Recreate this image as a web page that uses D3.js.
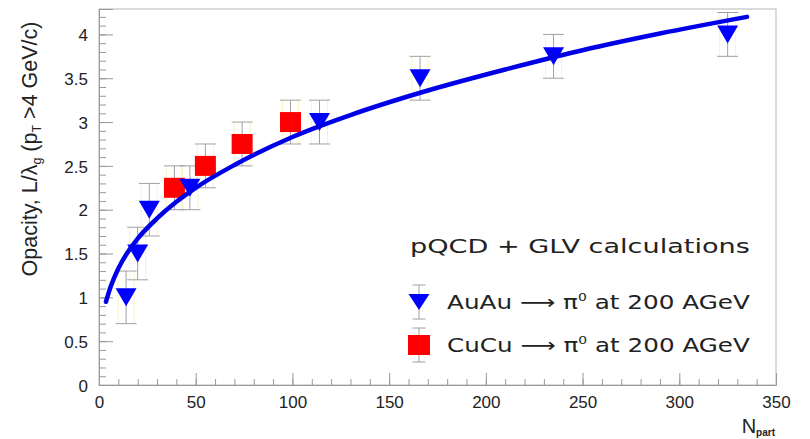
<!DOCTYPE html>
<html>
<head>
<meta charset="utf-8">
<script src="https://cdn.jsdelivr.net/npm/d3@7"></script>
<style>
  html, body { margin: 0; padding: 0; background: #fff; }
  svg { display: block; }
  text { font-family: "Liberation Sans", Arial, sans-serif; fill: #222; }
  .legend text { font-family: "DejaVu Sans", sans-serif; }
</style>
</head>
<body>
<svg id="chart" width="810" height="439"></svg>
<script>
// Au+Au pi0 opacity points (N_part, L/lambda_g, error)
const auauNpart   = [14, 20, 26, 47, 114, 166, 235, 325];
const auauOpacity = [1.0, 1.5, 2.0, 2.25, 3.0, 3.5, 3.75, 4.0];
const auauError   = [0.3, 0.3, 0.3, 0.25, 0.25, 0.25, 0.25, 0.25];

// Cu+Cu pi0 opacity points
const cucuNpart   = [39, 55, 74, 99];
const cucuOpacity = [2.25, 2.5, 2.75, 3.0];
const cucuError   = [0.25, 0.25, 0.25, 0.25];

// pQCD + GLV calculation curve, sampled along N_part
const curveNpart   = [3.6, 6, 10, 15, 20, 30, 40, 50, 70, 100, 130, 170, 210, 250, 290, 335];
const curveOpacity = [0.95, 1.12, 1.33, 1.52, 1.67, 1.90, 2.09, 2.25, 2.51, 2.83, 3.08, 3.36, 3.60, 3.82, 4.01, 4.20];

// Axis ticks and labels
const xMajorTicks = [0, 50, 100, 150, 200, 250, 300, 350];
const xMinorTicks = d3.range(0, 351, 10);
const yMajorTicks = [0, 0.5, 1, 1.5, 2, 2.5, 3, 3.5, 4];
const yMajorLabels = ["0", "0.5", "1", "1.5", "2", "2.5", "3", "3.5", "4"];
const yMinorTicks = d3.range(0, 43).map(i => i / 10);

const svg = d3.select("#chart");
const L = 99, R = 776, T = 9, B = 385;

const x = d3.scaleLinear().domain([0, 350]).range([L, R]);
const y = d3.scaleLinear().domain([0, 4.29]).range([B, T]);

// Frame
svg.append("rect")
  .attr("x", L).attr("y", T).attr("width", R - L).attr("height", B - T)
  .attr("fill", "none").attr("stroke", "#b8b8b8").attr("stroke-width", 1);

// Axes (ticks pointing into the frame)
const gx = svg.append("g").attr("transform", `translate(0,${B})`);
gx.append("g").call(d3.axisBottom(x).tickValues(xMinorTicks).tickSize(-6).tickFormat(""));
gx.append("g").attr("class", "xmaj").call(d3.axisBottom(x).tickValues(xMajorTicks).tickSize(-12).tickFormat(d3.format("d")));
gx.selectAll(".domain").attr("stroke", "#999");
gx.selectAll(".tick line").attr("stroke", "#999");
gx.selectAll(".xmaj text").attr("y", 17).attr("dy", "0").attr("font-size", 17)
  .style("font-family", "Liberation Sans, Arial, sans-serif").attr("fill", "#222")
  .attr("dominant-baseline", "central");

const gy = svg.append("g").attr("transform", `translate(${L},0)`);
gy.append("g").call(d3.axisLeft(y).tickValues(yMinorTicks).tickSize(-7).tickFormat(""));
gy.append("g").attr("class", "ymaj").call(d3.axisLeft(y).tickValues(yMajorTicks).tickSize(-14)
  .tickFormat((d, i) => yMajorLabels[i]).tickPadding(11));
gy.selectAll(".domain").attr("stroke", "#999");
gy.selectAll(".tick line").attr("stroke", "#999");
gy.selectAll(".ymaj text").attr("font-size", 17).attr("dy", "0.36em")
  .style("font-family", "Liberation Sans, Arial, sans-serif").attr("fill", "#222");

// Axis titles
const xt = svg.append("text").attr("x", 775).attr("y", 433).attr("text-anchor", "end").attr("font-size", 20);
xt.append("tspan").text("N");
xt.append("tspan").attr("font-size", 10).attr("font-weight", "bold").attr("dy", 3).text("part");

const yt = svg.append("text")
  .attr("transform", "translate(37,149) rotate(-90)")
  .attr("text-anchor", "middle").attr("font-size", 21.5);
yt.append("tspan").text("Opacity, L/λ");
yt.append("tspan").attr("font-size", 12.5).attr("dy", 4).text("g");
yt.append("tspan").attr("dy", -4).text(" (p");
yt.append("tspan").attr("font-size", 12.5).attr("dy", 4).text("T");
yt.append("tspan").attr("dy", -4).text(" >4 GeV/c)");

// Error bars
const cap = 10.5;
function errorBars(xs, ys, es) {
  const g = svg.append("g");
  xs.forEach((n, i) => {
    const cx = x(n), y1 = y(ys[i] + es[i]), y2 = y(ys[i] - es[i]);
    // pale halo along the bar
    [-8, 8].forEach(o => g.append("line").attr("x1", cx + o).attr("x2", cx + o)
      .attr("y1", y1).attr("y2", y2).attr("stroke", "#f7efb0").attr("stroke-width", 1).attr("opacity", 0.7));
    g.append("line").attr("x1", cx).attr("x2", cx).attr("y1", y1).attr("y2", y2).attr("stroke", "#a0a0a0");
    g.append("line").attr("x1", cx - cap).attr("x2", cx + cap).attr("y1", y1).attr("y2", y1).attr("stroke", "#a0a0a0");
    g.append("line").attr("x1", cx - cap).attr("x2", cx + cap).attr("y1", y2).attr("y2", y2).attr("stroke", "#a0a0a0");
  });
}
errorBars(auauNpart, auauOpacity, auauError);
errorBars(cucuNpart, cucuOpacity, cucuError);

// Markers
const triPath = (cx, cy) => `M${cx - 10.5},${cy - 9}L${cx + 10.5},${cy - 9}L${cx},${cy + 9}Z`;
svg.append("g").selectAll("rect").data(cucuNpart).join("rect")
  .attr("x", d => x(d) - 10.5).attr("y", (d, i) => y(cucuOpacity[i]) - 10)
  .attr("width", 21).attr("height", 20).attr("fill", "#ff0000");
svg.append("g").selectAll("path").data(auauNpart).join("path")
  .attr("d", (d, i) => triPath(x(d), y(auauOpacity[i]))).attr("fill", "#0000ff");

// Calculation curve
const line = d3.line().x(d => x(d[0])).y(d => y(d[1])).curve(d3.curveMonotoneX);
svg.append("path")
  .datum(curveNpart.map((n, i) => [n, curveOpacity[i]]))
  .attr("d", line).attr("fill", "none").attr("stroke", "#0000e8").attr("stroke-width", 4.5)
  .attr("stroke-linecap", "round");

// Legend text is drawn in a wide face: stretch each line horizontally to its box width
function wideText(parent, x0, y0, width, size) {
  const g = parent.append("g");
  const t = g.append("text").attr("x", 0).attr("y", 0).attr("font-size", size).attr("fill", "#222");
  return { g, t, fit() {
    const len = t.node().getComputedTextLength();
    g.attr("transform", `translate(${x0},${y0}) scale(${width / len},1)`);
  } };
}

const lg = svg.append("g").attr("class", "legend");
const title = wideText(lg, 410, 253, 340, 20);
title.t.text("pQCD + GLV calculations");
title.fit();

function legendEntry(cy, label, marker) {
  const cx = 419;
  lg.append("line").attr("x1", cx).attr("x2", cx).attr("y1", cy - 17).attr("y2", cy + 17).attr("stroke", "#a0a0a0");
  [cy - 17, cy + 17].forEach(v => lg.append("line").attr("x1", cx - 6.5).attr("x2", cx + 6.5)
    .attr("y1", v).attr("y2", v).attr("stroke", "#a0a0a0"));
  marker(cx, cy);
  const e = wideText(lg, 447, cy + 7, 303, 19.5);
  e.t.append("tspan").text(label + " ⟶ π");
  e.t.append("tspan").attr("font-size", 11).attr("dy", -8).text("0");
  e.t.append("tspan").attr("dy", 8).text(" at 200 AGeV");
  e.fit();
}
legendEntry(302, "AuAu", (cx, cy) => lg.append("path").attr("d", `M${cx - 10.5},${cy - 8}L${cx + 10.5},${cy - 8}L${cx},${cy + 8}Z`).attr("fill", "#0000ff"));
legendEntry(345, "CuCu", (cx, cy) => lg.append("rect").attr("x", cx - 11).attr("y", cy - 10).attr("width", 22).attr("height", 20).attr("fill", "#ff0000"));
</script>
</body>
</html>
